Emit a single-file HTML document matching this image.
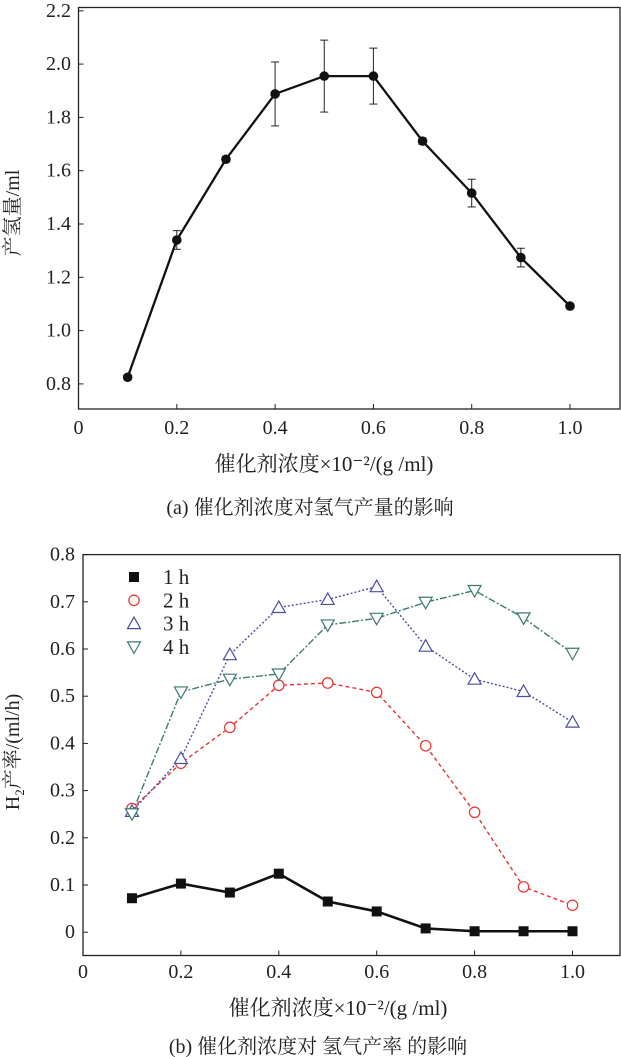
<!DOCTYPE html>
<html><head><meta charset="utf-8"><style>
html,body{margin:0;padding:0;background:#fff;}
svg{display:block;font-family:"Liberation Serif","Noto Serif CJK SC","Noto Sans CJK SC",serif;}
</style></head><body>
<svg id="svg" width="621" height="1057" viewBox="0 0 621 1057"></svg>
<script>
// ---- chart (a) data ----
const catsA = [0.1,0.2,0.3,0.4,0.5,0.6,0.7,0.8,0.9,1.0];
const yieldA = [0.825,1.34,1.643,1.888,1.955,1.955,1.711,1.516,1.274,1.092];
const errA = [0.01,0.035,0.01,0.12,0.135,0.105,0.012,0.052,0.035,0.01];
const xTicksA = ["0","0.2","0.4","0.6","0.8","1.0"];
const yTicksA = ["0.8","1.0","1.2","1.4","1.6","1.8","2.0","2.2"];
// ---- chart (b) data ----
const catsB = [0.1,0.2,0.3,0.4,0.5,0.6,0.7,0.8,0.9,1.0];
const rate1h = [0.072,0.103,0.084,0.124,0.065,0.044,0.008,0.002,0.002,0.002];
const rate2h = [0.262,0.358,0.434,0.523,0.528,0.508,0.395,0.254,0.096,0.057];
const rate3h = [0.256,0.368,0.588,0.688,0.705,0.732,0.606,0.536,0.51,0.445];
const rate4h = [0.251,0.509,0.536,0.547,0.651,0.665,0.699,0.724,0.666,0.591];
const seriesNames = ["1 h","2 h","3 h","4 h"];
const xTicksB = ["0","0.2","0.4","0.6","0.8","1.0"];
const yTicksB = ["0","0.1","0.2","0.3","0.4","0.5","0.6","0.7","0.8"];

const svg = document.getElementById('svg');
const NS = 'http://www.w3.org/2000/svg';
function mk(tag, attrs, parent){const e=document.createElementNS(NS,tag);for(const k in attrs)e.setAttribute(k,attrs[k]);(parent||svg).appendChild(e);return e;}
function txt(s, attrs){const e=mk('text',attrs);e.textContent=s;return e;}

// ===== Chart A =====
const A = {l:78.5,r:620,t:7.5,b:409};
const xA = v => 78.5 + v*491.5;
const yA = v => 330.6 - (v-1.0)*266.5;
const boxA = mk('rect',{x:A.l,y:A.t,width:A.r-A.l,height:A.b-A.t,fill:'none',stroke:'#222','stroke-width':1.3});


xTicksA.forEach(s=>{const v=parseFloat(s);const x=xA(v);
  if(v>0){const t=mk('line',{x1:x,x2:x,y1:A.b,y2:A.b-5,stroke:'#222','stroke-width':1});}
  const l=txt(s,{x:x,y:434,'font-size':20,'text-anchor':'middle',fill:'#222'});
  
  
});
yTicksA.forEach(s=>{const v=parseFloat(s);const y=yA(v);
  const t=mk('line',{x1:A.l,x2:A.l+5,y1:y,y2:y,stroke:'#222','stroke-width':1});
  const l=txt(s,{x:71,y:y+6,'font-size':20,'text-anchor':'end',fill:'#222'});
  
  
});
const lineA = mk('polyline',{points:catsA.map((c,i)=>xA(c)+','+yA(yieldA[i])).join(' '),fill:'none',stroke:'#111','stroke-width':2.3});


catsA.forEach((c,i)=>{const x=xA(c),y1=yA(yieldA[i]+errA[i]),y2=yA(yieldA[i]-errA[i]);
  const g=mk('g',{stroke:'#222','stroke-width':1});
  
  
  mk('line',{x1:x,x2:x,y1:y1,y2:y2},g);mk('line',{x1:x-4,x2:x+4,y1:y1,y2:y1},g);mk('line',{x1:x-4,x2:x+4,y1:y2,y2:y2},g);
  const p=mk('circle',{cx:x,cy:yA(yieldA[i]),r:4.8,fill:'#111'});
  
  
});
let t;
t=txt('产氢量/ml',{x:0,y:0,'font-size':20,'text-anchor':'middle',fill:'#222',transform:'translate(19,213) rotate(-90)'});

t=txt('催化剂浓度×10⁻²/(g /ml)',{x:324,y:471,'font-size':21,'text-anchor':'middle',fill:'#222'});

t=txt('(a)  催化剂浓度对氢气产量的影响',{x:310,y:514,'font-size':20,'text-anchor':'middle',fill:'#222'});


// ===== Chart B =====
const B = {l:83,r:620,t:554.6,b:955.5};
const xB = v => 83 + v*489.5;
const yB = v => 932.2 - v*472;
const boxB = mk('rect',{x:B.l,y:B.t,width:B.r-B.l,height:B.b-B.t,fill:'none',stroke:'#222','stroke-width':1.3});


xTicksB.forEach(s=>{const v=parseFloat(s);const x=xB(v);
  if(v>0){const t=mk('line',{x1:x,x2:x,y1:B.b,y2:B.b-5,stroke:'#222','stroke-width':1});}
  const l=txt(s,{x:x,y:978,'font-size':20,'text-anchor':'middle',fill:'#222'});
  
  
});
yTicksB.forEach(s=>{const v=parseFloat(s);const y=yB(v);
  const t=mk('line',{x1:B.l,x2:B.l+5,y1:y,y2:y,stroke:'#222','stroke-width':1});
  const l=txt(s,{x:75,y:y+6,'font-size':20,'text-anchor':'end',fill:'#222'});
  
  
});
const styles = [
  {data:rate1h,color:'#111',dash:'',w:2.6,m:'square'},
  {data:rate2h,color:'#e8332f',dash:'4 3',w:1.4,m:'circle'},
  {data:rate3h,color:'#4a4f9e',dash:'2 2',w:1.4,m:'up'},
  {data:rate4h,color:'#3d7a70',dash:'7 2 2 2',w:1.4,m:'down'}
];
function marker(m,x,y,color,parent){
  if(m==='square') return mk('rect',{x:x-5,y:y-5,width:10,height:10,fill:color},parent);
  if(m==='circle') return mk('circle',{cx:x,cy:y,r:5.2,fill:'#fff',stroke:color,'stroke-width':1.2},parent);
  if(m==='up') return mk('polygon',{points:`${x},${y-6.5} ${x-6.5},${y+5} ${x+6.5},${y+5}`,fill:'#fff',stroke:color,'stroke-width':1.2},parent);
  return mk('polygon',{points:`${x},${y+6.5} ${x-6.5},${y-5} ${x+6.5},${y-5}`,fill:'#fff',stroke:color,'stroke-width':1.2},parent);
}
styles.forEach((s,k)=>{
  const g=mk('g',{});
  
  
  const pl=mk('polyline',{points:catsB.map((c,i)=>xB(c)+','+yB(s.data[i])).join(' '),fill:'none',stroke:s.color,'stroke-width':s.w,'stroke-dasharray':s.dash},g);
  
  
  catsB.forEach((c,i)=>{const e=marker(s.m,xB(c),yB(s.data[i]),s.color,g);
    
    
  });
  const ly=577+k*23.3;
  const lg=mk('g',{});
  
  
  marker(s.m,134,ly,s.color,lg);
  const lt=document.createElementNS(NS,'text');
  lt.setAttribute('x',163);lt.setAttribute('y',ly+7);lt.setAttribute('font-size',21);lt.setAttribute('fill','#222');
  lt.textContent=seriesNames[k];lg.appendChild(lt);
});
t=txt('',{x:0,y:0,'font-size':20,'text-anchor':'middle',fill:'#222',transform:'translate(19,752) rotate(-90)'});
t.innerHTML='H<tspan font-size="13" dy="5">2</tspan><tspan dy="-5">产率/(ml/h)</tspan>';

t=txt('催化剂浓度×10⁻²/(g /ml)',{x:338,y:1015,'font-size':21,'text-anchor':'middle',fill:'#222'});

t=txt('(b) 催化剂浓度对 氢气产率 的影响',{x:318,y:1053,'font-size':20,'text-anchor':'middle',fill:'#222'});

</script>
</body></html>
